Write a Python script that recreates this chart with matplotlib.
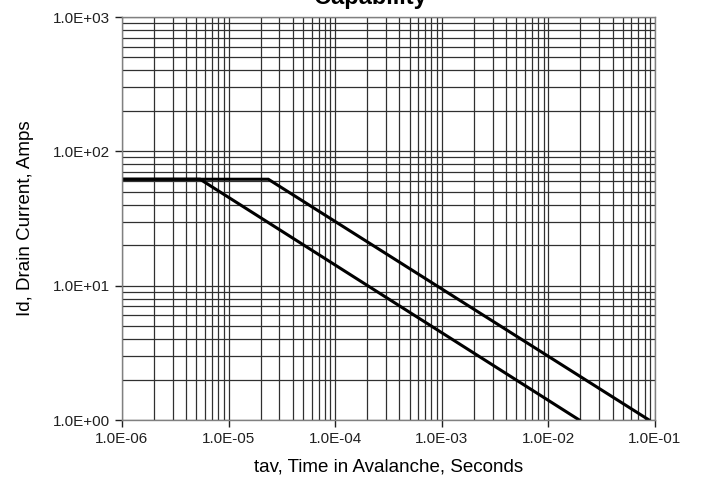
import numpy as np
import matplotlib.pyplot as plt
from matplotlib.ticker import LogLocator, FuncFormatter, NullFormatter

# avalanche current vs time, two curves
t_curve1 = [1.0e-6, 5.4e-6, 1.95e-2]
id_curve1 = [62.0, 62.0, 1.0]
t_curve2 = [1.0e-6, 2.36e-5, 8.8e-2]
id_curve2 = [62.0, 62.0, 1.0]

plt.rcParams['font.family'] = ['Liberation Sans', 'DejaVu Sans']

fig = plt.figure(figsize=(7.03, 4.82), dpi=100)
ax = fig.add_axes([0.1735, 0.1286, 0.7582, 0.8361])

ax.set_xscale('log')
ax.set_yscale('log')
ax.set_xlim(1e-6, 1e-1)
ax.set_ylim(1, 1000)

# grid: major + all minors
ax.xaxis.set_minor_locator(LogLocator(base=10, subs=np.arange(2, 10)))
ax.yaxis.set_minor_locator(LogLocator(base=10, subs=np.arange(2, 10)))
ax.grid(True, which='both', color='#303030', linewidth=0.9)
ax.set_axisbelow(True)

ax.plot(t_curve1, id_curve1, color='black', linewidth=2.2, solid_joinstyle='miter')
ax.plot(t_curve2, id_curve2, color='black', linewidth=2.2, solid_joinstyle='miter')

fmt = FuncFormatter(lambda v, p: '%.1E' % v)
ax.xaxis.set_major_formatter(fmt)
ax.yaxis.set_major_formatter(fmt)
ax.xaxis.set_minor_formatter(NullFormatter())
ax.yaxis.set_minor_formatter(NullFormatter())
ax.tick_params(which='major', direction='out', length=5, width=1, labelsize=11, colors='#202020')
ax.tick_params(which='minor', length=0)

for s in ax.spines.values():
    s.set_color('#808080')
    s.set_linewidth(1)

ax.set_xlabel('tav, Time in Avalanche, Seconds', fontsize=13.5, labelpad=9)
ax.set_ylabel('Id, Drain Current, Amps', fontsize=13.5, labelpad=14)

# title is cut off at the top of the image (as in the source)
fig.text(0.527, 1.005, 'Capability', fontsize=17, fontweight='bold',
         ha='center', va='center')

fig.savefig('out.png', dpi=100)
